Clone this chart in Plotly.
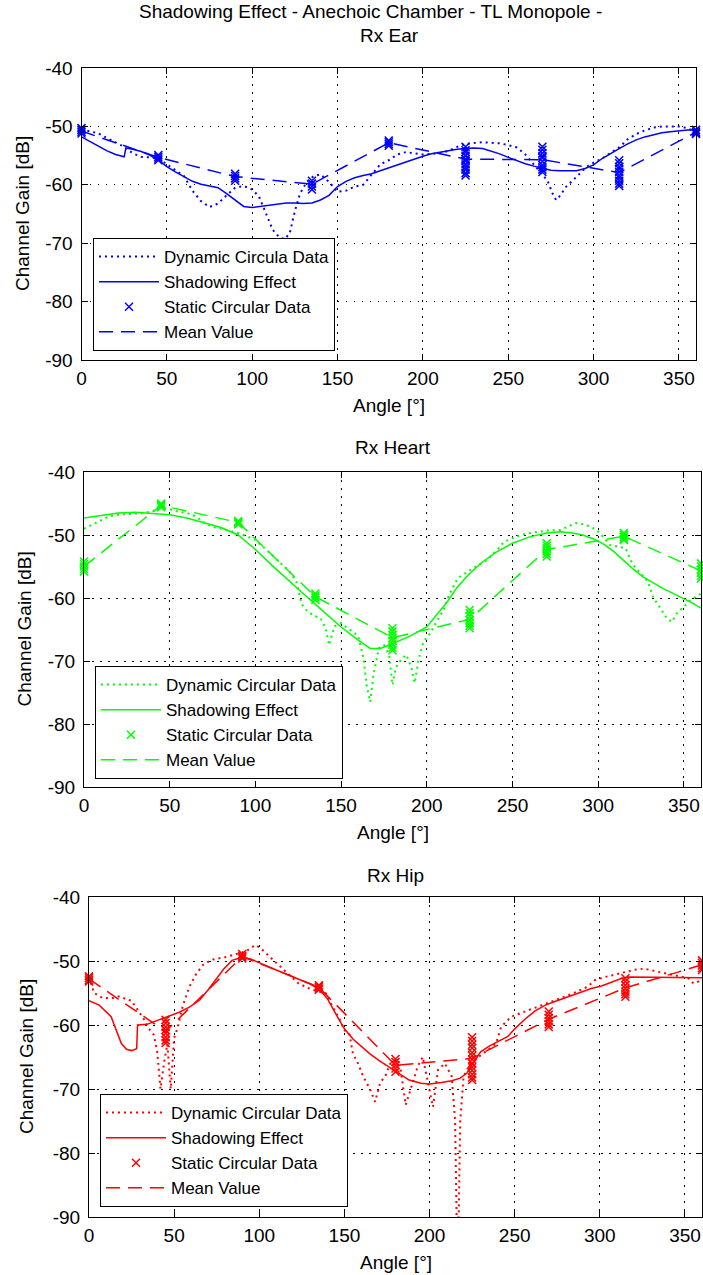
import plotly.graph_objects as go

FONT = "Liberation Sans, Arial, sans-serif"
W, H = 703, 1275

# ---------------------------------------------------------------- axes ticks
angle_ticks = [0, 50, 100, 150, 200, 250, 300, 350]
angle_ticktext = ["0", "50", "100", "150", "200", "250", "300", "350"]
gain_ticks = [-90, -80, -70, -60, -50, -40]
gain_ticktext = ["-90", "-80", "-70", "-60", "-50", "-40"]

# angles of the static measurements and of the mean value
static_angles = [0, 45, 90, 135, 180, 225, 270, 315, 360]

# ---------------------------------------------------------------- Rx Ear
ear_dyn_angle = [0, 5, 10, 15, 20, 25, 30, 35, 40, 45, 50, 55, 60, 65, 70, 75, 80, 85,
                 90, 95, 100, 104, 108, 112, 116, 119, 122, 125, 128, 132, 136, 140,
                 145, 150, 155, 160, 165, 170, 175, 180, 185, 190, 195, 200, 205, 210,
                 215, 220, 225, 230, 235, 240, 245, 250, 255, 260, 265, 270, 273, 276,
                 278, 280, 284, 288, 292, 296, 300, 305, 310, 315, 320, 325, 330, 335,
                 340, 345, 350, 355, 360]
ear_dyn_gain = [-50.5, -50.8, -51.2, -52.0, -52.7, -53.5, -54.6, -55.2, -55.3, -55.5,
                -56.5, -57.5, -58.5, -61.0, -62.8, -63.8, -63.2, -61.8, -60.5, -60.2,
                -60.8, -62.0, -64.8, -67.7, -69.0, -69.3, -68.3, -64.5, -61.5, -59.5,
                -58.5, -58.2, -59.5, -61.2, -61.0, -60.3, -60.0, -58.2, -56.5, -55.8,
                -54.8, -54.4, -54.6, -54.8, -54.7, -54.6, -54.2, -53.5, -53.0, -52.8,
                -52.7, -52.8, -52.9, -53.2, -53.6, -54.8, -56.5, -58.2, -59.3, -61.5,
                -62.6, -62.0, -60.3, -59.2, -58.0, -56.9, -56.2, -55.5, -54.5, -53.6,
                -52.2, -51.3, -50.7, -50.2, -50.0, -50.0, -50.0, -50.3, -51.0]
ear_shadow_angle = [0, 5, 10, 15, 20, 25, 26, 30, 35, 40, 45, 50, 55, 60, 65, 70, 75, 80,
                    85, 90, 95, 100, 105, 110, 115, 120, 125, 130, 135, 140, 145, 150,
                    155, 160, 165, 170, 175, 180, 185, 190, 195, 200, 205, 210, 215, 220,
                    225, 230, 235, 240, 245, 250, 255, 260, 265, 270, 275, 280, 285, 290,
                    295, 300, 305, 310, 315, 320, 325, 330, 335, 340, 345, 350, 355, 360]
ear_shadow_gain = [-51.8, -52.6, -53.4, -54.2, -54.8, -55.2, -53.7, -53.9, -54.3, -54.9,
                   -55.8, -56.9, -57.8, -58.6, -59.4, -59.9, -60.2, -60.5, -61.5, -62.6,
                   -63.7, -63.9, -63.7, -63.5, -63.3, -63.1, -63.1, -63.2, -63.1, -62.6,
                   -61.8, -60.3, -59.4, -58.8, -58.4, -58.1, -57.6, -57.1, -56.6, -56.0,
                   -55.5, -55.1, -54.7, -54.4, -54.1, -53.9, -53.8, -53.7, -53.8, -54.2,
                   -54.7, -55.3, -55.9, -56.4, -56.8, -57.2, -57.5, -57.6, -57.6, -57.6,
                   -57.2, -56.6, -55.5, -54.6, -53.8, -53.0, -52.3, -51.8, -51.4, -51.1,
                   -50.9, -50.7, -50.6, -50.6]
ear_static = [
    [-50.3, -50.6, -50.9, -51.2],
    [-54.9, -55.2, -55.5, -55.8],
    [-58.1, -58.5, -58.9, -59.3],
    [-59.3, -59.8, -60.3, -60.8],
    [-52.4, -52.7, -53.0, -53.3],
    [-53.5, -54.1, -54.4, -55.0, -55.6, -55.9, -56.5, -57.0, -57.4, -58.0, -58.4],
    [-53.5, -54.0, -54.6, -55.1, -55.4, -56.0, -56.6, -57.0, -57.4, -57.8],
    [-55.8, -56.3, -56.9, -57.3, -57.8, -58.4, -58.8, -59.3, -59.8, -60.2],
    [-50.6, -50.9, -51.1, -51.3],
]
ear_mean = [-50.8, -55.3, -58.6, -59.9, -52.8, -55.6, -55.7, -57.9, -51.0]

# ---------------------------------------------------------------- Rx Heart
heart_dyn_angle = [0, 5, 10, 15, 20, 25, 30, 35, 40, 45, 50, 55, 60, 65, 70, 75, 80, 85,
                   90, 95, 100, 105, 110, 115, 120, 124, 127, 130, 134, 138, 141, 143,
                   146, 150, 155, 160, 163, 165, 167, 169, 172, 175, 178, 180, 182, 185,
                   188, 191, 193, 195, 198, 202, 205, 208, 210, 213, 218, 225, 230, 235,
                   241, 245, 250, 255, 260, 265, 270, 278, 283, 287, 291, 295, 299, 303,
                   307, 312, 316, 320, 324, 329, 332, 336, 340, 343, 346, 350, 354, 360]
heart_dyn_gain = [-49.0, -48.3, -47.6, -47.0, -46.8, -46.7, -46.6, -46.5, -46.2, -45.7,
                  -45.9, -46.3, -46.5, -47.0, -48.0, -48.7, -49.0, -49.3, -49.7, -50.2,
                  -50.8, -52.0, -53.3, -54.5, -55.8, -57.5, -61.0, -62.0, -62.8, -63.2,
                  -64.8, -67.5, -64.5, -64.0, -65.0, -66.0, -69.5, -74.0, -76.5, -72.0,
                  -68.0, -67.5, -69.0, -73.8, -71.0, -69.8, -69.0, -71.0, -73.5, -70.0,
                  -67.0, -65.6, -64.1, -62.8, -61.8, -59.5, -56.9, -55.6, -54.8, -54.0,
                  -52.4, -51.1, -50.5, -50.0, -49.7, -49.5, -49.3, -49.2, -48.6, -48.1,
                  -48.3, -48.6, -49.2, -50.3, -51.6, -51.9, -52.1, -54.6, -55.8, -57.4,
                  -59.8, -61.4, -63.2, -63.8, -62.4, -61.4, -60.3, -59.3]
heart_shadow_angle = [0, 10, 20, 30, 40, 50, 60, 70, 80, 90, 100, 110, 120, 130, 140, 150,
                      160, 167, 173, 180, 190, 200, 205, 212, 218, 225, 232, 240, 250, 260,
                      270, 278, 285, 291, 297, 303, 309, 315, 320, 326, 332, 338, 344, 350,
                      355, 360]
heart_shadow_gain = [-47.3, -46.9, -46.5, -46.4, -46.6, -46.8, -47.3, -48.0, -48.8, -50.0,
                     -52.3, -54.9, -57.4, -59.8, -62.2, -64.6, -66.7, -68.0, -68.0, -67.2,
                     -66.1, -64.6, -63.0, -60.6, -58.2, -56.1, -54.4, -52.8, -51.3, -50.3,
                     -49.7, -49.5, -49.7, -50.0, -50.6, -51.4, -52.6, -54.1, -55.3, -56.6,
                     -57.6, -58.5, -59.3, -60.1, -60.8, -61.6]
heart_static = [
    [-54.2, -54.6, -55.0, -55.4, -55.8],
    [-45.0, -45.2, -45.4, -45.6],
    [-47.8, -48.0, -48.2, -48.3],
    [-59.3, -59.6, -59.9, -60.3],
    [-64.8, -65.3, -65.9, -66.4, -66.8, -67.4, -67.9, -68.3],
    [-61.9, -62.4, -62.9, -63.5, -64.0, -64.4, -64.8],
    [-51.3, -51.7, -52.1, -52.6, -53.0, -53.4],
    [-49.7, -50.0, -50.3, -50.6, -50.8],
    [-54.5, -55.0, -55.5, -56.0, -56.5, -56.9],
]
heart_mean = [-55.0, -45.3, -48.0, -59.8, -66.3, -63.4, -52.3, -50.2, -55.7]

# ---------------------------------------------------------------- Rx Hip
hip_dyn_angle = [0, 3, 8, 14, 18, 22, 25, 28, 32, 35, 38, 40, 42, 44, 46, 48, 50, 52, 55,
                 59, 63, 67, 72, 80, 86, 92, 96, 98, 102, 108, 115, 123, 131, 139, 143,
                 147, 150, 153, 155, 158, 161, 165, 168, 171, 174, 177, 180, 183, 186,
                 189, 193, 196, 200, 202, 205, 209, 213, 215, 216, 217, 218, 220, 224,
                 229, 234, 239, 242, 248, 258, 266, 278, 284, 293, 297, 303, 310, 320,
                 326, 330, 340, 347, 352, 355, 360]
hip_dyn_gain = [-52.5, -55.0, -55.8, -55.8, -55.5, -56.0, -56.2, -57.4, -59.0, -60.5,
                -61.5, -64.0, -70.0, -66.0, -63.0, -70.0, -62.0, -60.5, -57.1, -54.0,
                -52.0, -50.6, -49.8, -49.4, -49.0, -48.5, -47.8, -47.5, -48.3, -49.8,
                -51.4, -53.5, -54.5, -55.0, -57.1, -59.0, -60.8, -61.5, -64.5, -66.0,
                -68.0, -70.0, -72.0, -69.0, -68.0, -66.0, -65.5, -67.0, -72.5, -70.0,
                -66.5, -65.0, -70.5, -72.8, -67.0, -66.0, -68.0, -75.0, -92.0, -92.0,
                -75.0, -68.0, -66.0, -65.0, -64.0, -62.9, -60.3, -58.7, -57.7, -56.9,
                -55.8, -55.1, -54.0, -53.0, -52.5, -52.0, -51.4, -51.2, -51.4, -52.0,
                -52.4, -52.7, -53.5, -53.0]
hip_shadow_angle = [0, 6, 13, 16, 19, 22, 25, 28, 28.5, 34, 41, 47, 53, 59, 65, 70, 75,
                    79, 84, 90, 95, 100, 110, 120, 130, 136, 140, 145, 150, 155, 160, 165,
                    170, 176, 182, 188, 195, 200, 207, 213, 218, 222, 225, 230, 235, 240,
                    246, 250, 256, 262, 268, 274, 281, 289, 295, 301, 307, 313, 317, 340,
                    360]
hip_shadow_gain = [-56.2, -56.9, -58.7, -60.8, -62.9, -63.8, -64.0, -63.7, -60.0, -59.9,
                   -59.2, -58.6, -58.0, -57.2, -56.1, -54.5, -52.7, -51.3, -49.9, -49.4,
                   -49.7, -50.3, -51.4, -52.5, -53.6, -54.6, -55.9, -58.3, -60.6, -62.2,
                   -63.4, -64.5, -65.5, -66.5, -67.5, -68.6, -69.1, -69.2, -69.0, -68.7,
                   -68.3, -67.5, -66.2, -64.2, -63.3, -62.6, -61.8, -60.6, -59.1, -57.8,
                   -56.9, -56.3, -55.6, -54.8, -54.3, -53.9, -53.3, -52.7, -52.5, -52.5,
                   -52.6]
hip_static = [
    [-52.4, -52.7, -53.0, -53.2],
    [-59.2, -59.7, -60.3, -60.8, -61.3, -61.9, -62.4, -62.8],
    [-48.9, -49.2, -49.4, -49.6],
    [-53.8, -54.0, -54.3, -54.5],
    [-65.3, -65.8, -66.3, -66.8, -67.3],
    [-61.9, -62.5, -63.1, -63.6, -64.3, -64.8, -65.4, -66.0, -66.6, -67.1, -67.7, -68.2, -68.6],
    [-57.9, -58.4, -58.9, -59.4, -59.9, -60.3],
    [-52.7, -53.2, -53.8, -54.3, -54.8, -55.2, -55.6],
    [-49.9, -50.3, -50.7, -51.1, -51.4],
]
hip_mean = [-52.8, -61.0, -49.3, -54.1, -66.3, -65.2, -59.1, -54.2, -50.6]

# ---------------------------------------------------------------- layout boxes (px)
panels = [
    dict(name="ear", color="#0000ff", box=(81.5, 696, 68, 360),
         dyn=(ear_dyn_angle, ear_dyn_gain), shadow=(ear_shadow_angle, ear_shadow_gain),
         static=ear_static, mean=ear_mean, dyn_label="Dynamic Circula Data",
         legend_xy=(93, 238), title=None, title_y=35, xlabel_y=405, ylabel_x=22),
    dict(name="heart", color="#00ff00", box=(84, 701, 472, 787),
         dyn=(heart_dyn_angle, heart_dyn_gain), shadow=(heart_shadow_angle, heart_shadow_gain),
         static=heart_static, mean=heart_mean, dyn_label="Dynamic Circular Data",
         legend_xy=(95, 666), title="Rx Heart", title_y=447, xlabel_y=832, ylabel_x=24),
    dict(name="hip", color="#ff0000", box=(89, 702, 897, 1217),
         dyn=(hip_dyn_angle, hip_dyn_gain), shadow=(hip_shadow_angle, hip_shadow_gain),
         static=hip_static, mean=hip_mean, dyn_label="Dynamic Circular Data",
         legend_xy=(100, 1094), title="Rx Hip", title_y=875, xlabel_y=1262, ylabel_x=26),
]

fig = go.Figure()
annotations = []
layout_axes = {}

for i, p in enumerate(panels):
    k = "" if i == 0 else str(i + 1)
    xa, ya = "x" + k, "y" + k
    leg = "legend" + k
    col = p["color"]

    fig.add_trace(go.Scatter(
        x=p["dyn"][0], y=p["dyn"][1], mode="lines", name=p["dyn_label"],
        line=dict(color=col, width=2, dash="2px,4px"), xaxis=xa, yaxis=ya, legend=leg))
    fig.add_trace(go.Scatter(
        x=p["shadow"][0], y=p["shadow"][1], mode="lines", name="Shadowing Effect",
        line=dict(color=col, width=1.5), xaxis=xa, yaxis=ya, legend=leg))
    sx, sy = [], []
    for ang, vals in zip(static_angles, p["static"]):
        sx += [ang] * len(vals)
        sy += vals
    fig.add_trace(go.Scatter(
        x=sx, y=sy, mode="markers", name="Static Circular Data",
        marker=dict(symbol="x-thin", size=8, color=col, line=dict(color=col, width=1.5)),
        xaxis=xa, yaxis=ya, legend=leg, cliponaxis=False))
    fig.add_trace(go.Scatter(
        x=static_angles, y=p["mean"], mode="lines", name="Mean Value",
        line=dict(color=col, width=1.5, dash="14px,8px"), xaxis=xa, yaxis=ya, legend=leg))

    x0, x1, y0, y1 = p["box"]
    axis_style = dict(showline=True, linecolor="black", linewidth=1, mirror="allticks",
                      ticks="inside", ticklen=6, tickcolor="black", tickwidth=1,
                      showgrid=True, gridcolor="black", gridwidth=1, griddash="1.5px,6.5px",
                      zeroline=False, automargin=False,
                      tickfont=dict(family=FONT, size=19, color="black"))
    layout_axes["xaxis" + k] = dict(axis_style, domain=[x0 / W, x1 / W], range=[0, 360],
                                    anchor=ya, tickvals=angle_ticks, ticktext=angle_ticktext,
                                    ticklabelstandoff=1)
    layout_axes["yaxis" + k] = dict(axis_style, domain=[1 - y1 / H, 1 - y0 / H],
                                    range=[-90, -40], anchor=xa, tickvals=gain_ticks,
                                    ticktext=gain_ticktext, ticklabelstandoff=4)
    layout_axes[leg] = dict(x=p["legend_xy"][0] / W, y=1 - p["legend_xy"][1] / H,
                            xanchor="left", yanchor="top", bgcolor="white",
                            bordercolor="black", borderwidth=1, itemwidth=60,
                            font=dict(family=FONT, size=17, color="black"))

    cx = (x0 + x1) / 2
    if p["title"]:
        annotations.append(dict(text=p["title"], x=cx / W, y=1 - p["title_y"] / H))
    annotations.append(dict(text="Angle [°]", x=cx / W, y=1 - p["xlabel_y"] / H))
    annotations.append(dict(text="Channel Gain [dB]", x=p["ylabel_x"] / W,
                            y=1 - ((y0 + y1) / 2) / H, textangle=-90))

annotations.append(dict(text="Shadowing Effect - Anechoic Chamber - TL Monopole -",
                        x=370 / W, y=1 - 12 / H))
annotations.append(dict(text="Rx Ear", x=389 / W, y=1 - 35 / H))
for a in annotations:
    a.update(xref="paper", yref="paper", showarrow=False, xanchor="center",
             yanchor="middle", font=dict(family=FONT, size=19, color="black"))

fig.update_layout(width=W, height=H, margin=dict(l=0, r=0, t=0, b=0),
                  paper_bgcolor="white", plot_bgcolor="white", showlegend=True,
                  annotations=annotations, **layout_axes)

fig.write_html("out.html")
